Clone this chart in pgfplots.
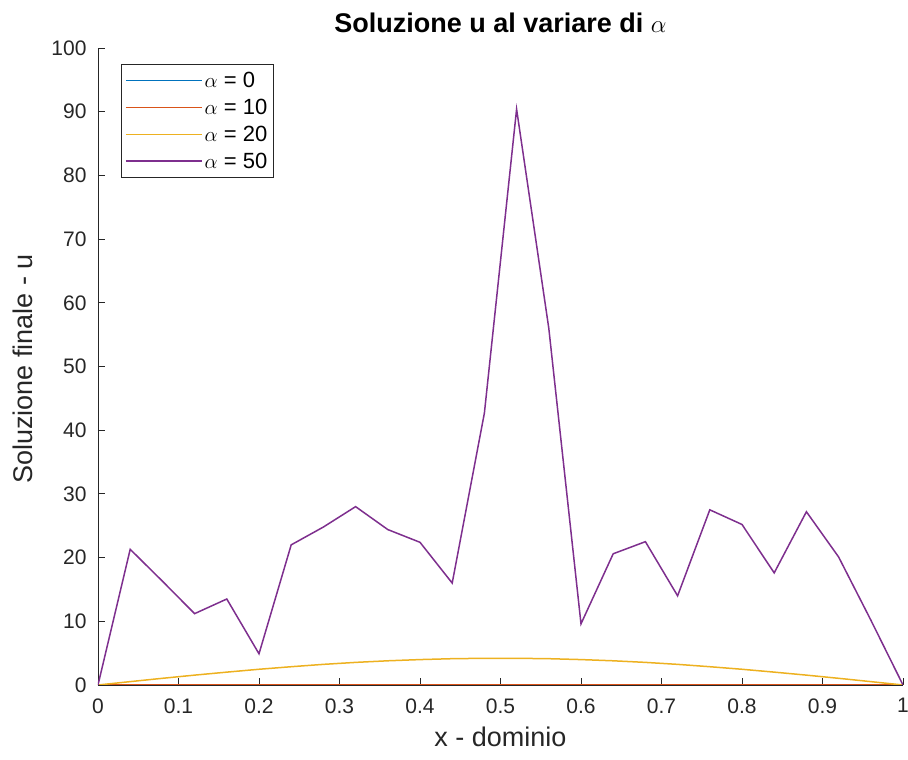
\documentclass[border=0pt]{standalone}
\usepackage{fontspec}
\setmainfont{Liberation Sans}
\usepackage{pgfplots}
\pgfplotsset{compat=1.18}
\usetikzlibrary{calc}
\definecolor{mblue}{rgb}{0,0.447,0.741}
\definecolor{morange}{rgb}{0.85,0.325,0.098}
\definecolor{myellow}{rgb}{0.929,0.694,0.125}
\definecolor{mpurple}{rgb}{0.494,0.184,0.556}
\definecolor{axgray}{rgb}{0.15,0.15,0.15}
\begin{document}
\begin{tikzpicture}
\begin{axis}[
  name=ax,
  scale only axis,
  width=805pt, height=637pt,
  xmin=0, xmax=1, ymin=0, ymax=100,
  axis lines*=left,
  axis line style={axgray, line width=0.9pt, -},
  tick align=inside,
  major tick length=7pt,
  tick style={axgray, line width=0.9pt},
  xtick={0,0.1,0.2,0.3,0.4,0.5,0.6,0.7,0.8,0.9,1},
  xticklabels={0,0.1,0.2,0.3,0.4,0.5,0.6,0.7,0.8,0.9,1},
  ytick={0,10,20,30,40,50,60,70,80,90,100},
  /pgf/number format/assume math mode=true,
  ticklabel style={font=\fontsize{21}{24}\selectfont, text=axgray},
  xticklabel style={yshift=-10pt},
  yticklabel style={xshift=-8pt},
  label style={font=\fontsize{27}{30}\selectfont, text=axgray},
  xlabel={x - dominio},
  ylabel={Soluzione finale - u},
  xlabel style={at={(axis description cs:0.5,-0.082)}, anchor=center},
  ylabel style={at={(axis description cs:-0.093,0.496)}, anchor=center, rotate=0},
  title={\textbf{Soluzione u al variare di $\alpha$}},
  title style={font=\fontsize{27}{30}\selectfont, at={(axis description cs:0.5,1)}, anchor=base, yshift=9pt},
  legend cell align=left,
  legend style={at={(0.0286,0.975)}, anchor=north west, draw=axgray,
    font=\fontsize{22}{25}\selectfont, row sep=6pt, inner xsep=4pt, inner ysep=6pt,
    nodes={inner sep=2pt}},
  legend image code/.code={\draw[#1, line width=1.5pt] (0pt,0pt) -- (76pt,0pt);},
  every axis plot/.append style={line width=1.5pt},
]
\addplot[color=mblue] coordinates {(0,0)(0.04,0)(0.08,0)(0.12,0)(0.16,0)(0.2,0)(0.24,0)(0.28,0)(0.32,0)(0.36,0)(0.4,0)(0.44,0)(0.48,0)(0.52,0)(0.56,0)(0.6,0)(0.64,0)(0.68,0)(0.72,0)(0.76,0)(0.8,0)(0.84,0)(0.88,0)(0.92,0)(0.96,0)(1,0)};
\addlegendentry{$\alpha$ = 0}
\addplot[color=morange] coordinates {(0,0)(0.04,0)(0.08,0)(0.12,0)(0.16,0)(0.2,0)(0.24,0)(0.28,0)(0.32,0)(0.36,0)(0.4,0)(0.44,0)(0.48,0)(0.52,0)(0.56,0)(0.6,0)(0.64,0)(0.68,0)(0.72,0)(0.76,0)(0.8,0)(0.84,0)(0.88,0)(0.92,0)(0.96,0)(1,0)};
\addlegendentry{$\alpha$ = 10}
\addplot[color=myellow] coordinates {(0,0)(0.04,0.53)(0.08,1.05)(0.12,1.55)(0.16,2.02)(0.2,2.47)(0.24,2.87)(0.28,3.24)(0.32,3.55)(0.36,3.80)(0.4,3.99)(0.44,4.13)(0.48,4.19)(0.52,4.19)(0.56,4.13)(0.6,3.99)(0.64,3.80)(0.68,3.55)(0.72,3.24)(0.76,2.87)(0.8,2.47)(0.84,2.02)(0.88,1.55)(0.92,1.05)(0.96,0.53)(1,0)};
\addlegendentry{$\alpha$ = 20}
\addplot[color=mpurple] coordinates {(0,0)(0.04,21.3)(0.08,16.3)(0.12,11.2)(0.16,13.5)(0.2,4.9)(0.24,22.0)(0.28,24.8)(0.32,28.0)(0.36,24.4)(0.4,22.4)(0.44,16.0)(0.48,42.7)(0.52,90.4)(0.56,56.0)(0.6,9.6)(0.64,20.6)(0.68,22.5)(0.72,14.0)(0.76,27.5)(0.8,25.2)(0.84,17.6)(0.88,27.2)(0.92,20.1)(0.96,10.2)(1,0)};
\addlegendentry{$\alpha$ = 50}
\end{axis}
\pgfresetboundingbox
\path ($(ax.south west)+(-98pt,-75pt)$) rectangle ($(ax.north east)+(5pt,48pt)$);
\end{tikzpicture}
\end{document}
